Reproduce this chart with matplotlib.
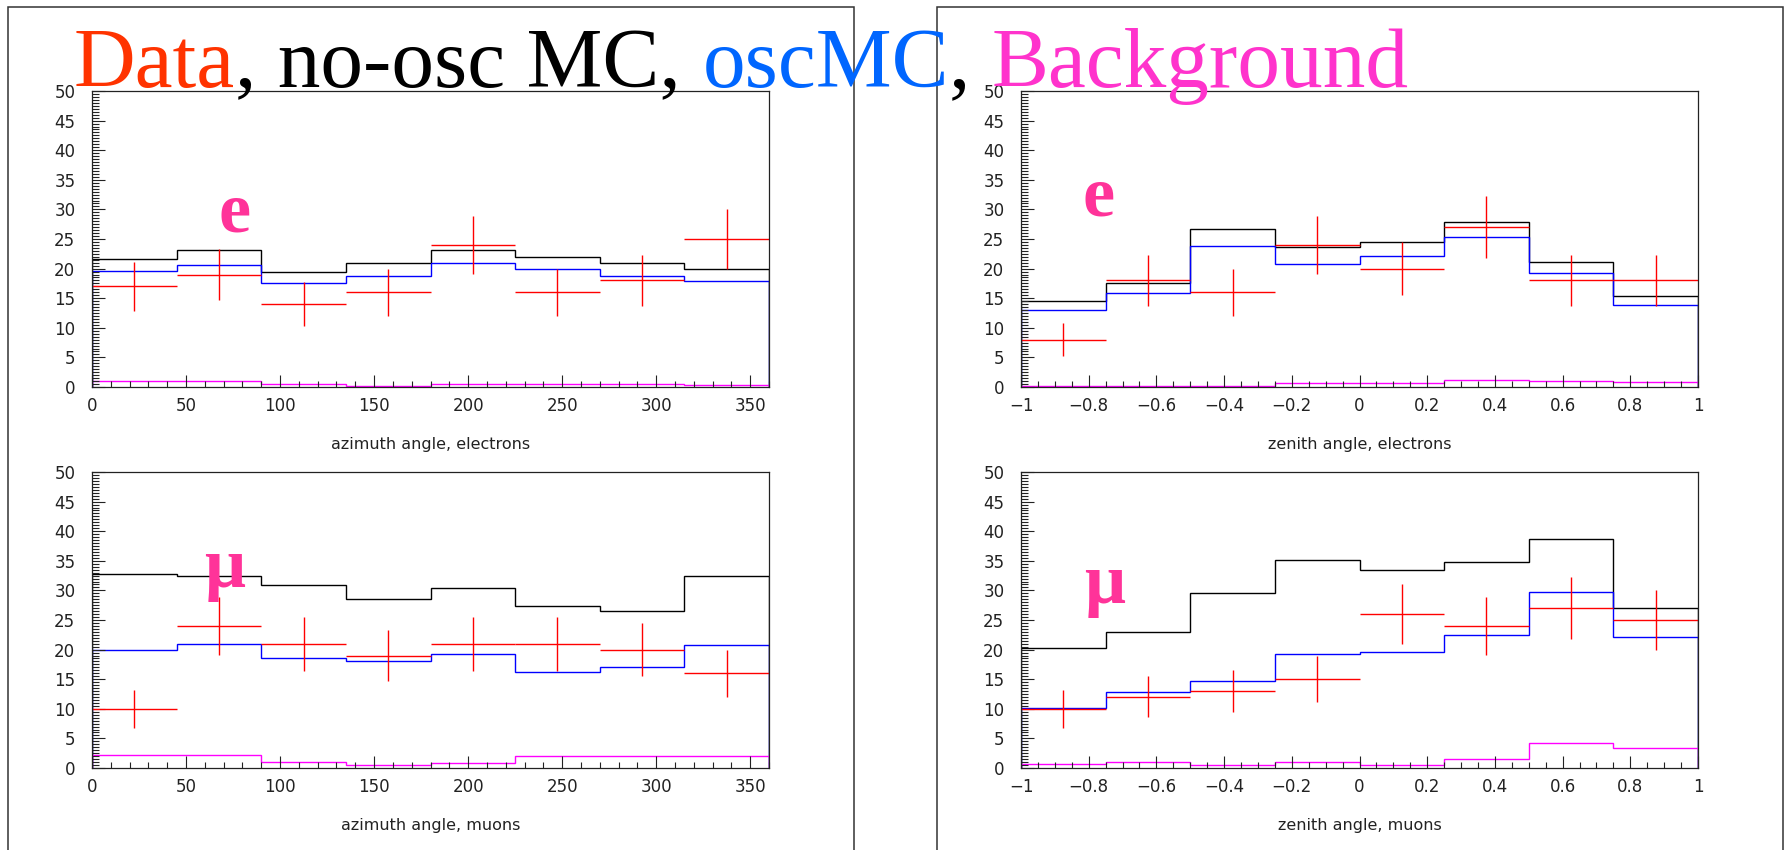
import numpy as np
import matplotlib
matplotlib.use("Agg")
import matplotlib.pyplot as plt
from matplotlib.patches import Rectangle
from matplotlib.text import Annotation
from matplotlib.ticker import MultipleLocator, FuncFormatter

W, H = 1785, 850

azimuth_edges = np.linspace(0, 360, 9)
zenith_edges = np.linspace(-1, 1, 9)

# azimuth, electrons
az_e_data = [17, 19, 14, 16, 24, 16, 18, 25]
az_e_noosc = [21.6, 23.1, 19.4, 20.9, 23.1, 22.0, 21.0, 20.0]
az_e_osc = [19.6, 20.6, 17.6, 18.7, 21.0, 19.9, 18.8, 17.9]
az_e_bkg = [1.0, 0.95, 0.5, 0.1, 0.55, 0.45, 0.55, 0.4]

# zenith, electrons
ze_e_data = [8, 18, 16, 24, 20, 27, 18, 18]
ze_e_noosc = [14.5, 17.5, 26.7, 23.7, 24.5, 27.9, 21.1, 15.3]
ze_e_osc = [13.0, 15.8, 23.9, 20.8, 22.2, 25.4, 19.2, 13.9]
ze_e_bkg = [0.1, 0.1, 0.1, 0.7, 0.7, 1.1, 0.95, 0.85]

# azimuth, muons
az_m_data = [10, 24, 21, 19, 21, 21, 20, 16]
az_m_noosc = [32.75, 32.5, 30.9, 28.6, 30.4, 27.4, 26.5, 32.5]
az_m_osc = [19.9, 20.9, 18.6, 18.1, 19.2, 16.3, 17.1, 20.7]
az_m_bkg = [2.25, 2.25, 1.07, 0.56, 0.85, 2.1, 2.1, 2.0]

# zenith, muons
ze_m_data = [10, 12, 13, 15, 26, 24, 27, 25]
ze_m_noosc = [20.2, 23.0, 29.5, 35.2, 33.4, 34.8, 38.6, 27.0]
ze_m_osc = [10.1, 12.8, 14.7, 19.3, 19.6, 22.5, 29.7, 22.2]
ze_m_bkg = [0.7, 1.0, 0.56, 1.0, 0.56, 1.47, 4.3, 3.3]

title_parts = ["Data", ", no-osc MC, ", "oscMC", ", ", "Background"]
title_colors = ["#ff3300", "black", "#0066ff", "black", "#ff33cc"]


def fmt_tick(v, pos):
    v = round(v, 6)
    if v == 0:
        return "0"
    return ("%g" % v).replace("-", "\u2212")


def draw_panel(ax, edges, data, noosc, osc, bkg, xlabel, major, minor):
    data = np.asarray(data, dtype=float)
    ax.stairs(noosc, edges, baseline=0, color="black", lw=1.0)
    ax.stairs(osc, edges, baseline=0, color="blue", lw=1.0)
    ax.stairs(bkg, edges, baseline=0, color="magenta", lw=1.0)
    centers = 0.5 * (edges[:-1] + edges[1:])
    half = 0.5 * np.diff(edges)
    ax.errorbar(centers, data, xerr=half, yerr=np.sqrt(data), fmt="none",
                ecolor="red", elinewidth=1.0, capsize=0)
    ax.set_xlim(edges[0], edges[-1])
    ax.set_ylim(0, 50)
    ax.xaxis.set_major_locator(MultipleLocator(major))
    ax.xaxis.set_minor_locator(MultipleLocator(minor))
    ax.yaxis.set_major_locator(MultipleLocator(5))
    ax.yaxis.set_minor_locator(MultipleLocator(0.5))
    ax.xaxis.set_major_formatter(FuncFormatter(fmt_tick))
    ax.tick_params(which="both", direction="in", top=False, right=False,
                   width=0.8, colors="#222222", labelsize=12)
    ax.tick_params(axis="x", which="major", length=8.6, pad=7)
    ax.tick_params(axis="x", which="minor", length=4.3)
    ax.tick_params(axis="y", which="major", length=9.4, pad=12)
    ax.tick_params(axis="y", which="minor", length=5)
    for s in ax.spines.values():
        s.set_linewidth(0.9)
        s.set_color("#222222")
    ax.set_xlabel(xlabel, fontsize=11.5, color="#222222", labelpad=16)


fig = plt.figure(figsize=(W / 100, H / 100), dpi=100)

# outer frames around the left and right pairs
for x0, x1 in [(7.5, 854), (937, 1783)]:
    fig.add_artist(Rectangle((x0 / W, -0.1), (x1 - x0) / W, 1.1 - 7 / H,
                             transform=fig.transFigure, fill=False,
                             edgecolor="#333333", lw=1.1))

aw = (769 - 92) / W
ah = (387 - 91) / H
ax_tl = fig.add_axes([92 / W, 1 - 387 / H, aw, ah])
ax_tr = fig.add_axes([1021 / W, 1 - 387 / H, aw, ah])
ax_bl = fig.add_axes([92 / W, 1 - 768 / H, aw, ah])
ax_br = fig.add_axes([1021 / W, 1 - 768 / H, aw, ah])

draw_panel(ax_tl, azimuth_edges, az_e_data, az_e_noosc, az_e_osc, az_e_bkg,
           "azimuth angle, electrons", 50, 10)
draw_panel(ax_tr, zenith_edges, ze_e_data, ze_e_noosc, ze_e_osc, ze_e_bkg,
           "zenith angle, electrons", 0.2, 0.05)
draw_panel(ax_bl, azimuth_edges, az_m_data, az_m_noosc, az_m_osc, az_m_bkg,
           "azimuth angle, muons", 50, 10)
draw_panel(ax_br, zenith_edges, ze_m_data, ze_m_noosc, ze_m_osc, ze_m_bkg,
           "zenith angle, muons", 0.2, 0.05)

# particle labels
pink = "#ff3399"
for x, y, s in [(235, 231, "e"), (1099, 216, "e"),
                (225, 587, "\u03bc"), (1105, 603, "\u03bc")]:
    fig.text(x / W, 1 - y / H, s, color=pink, fontsize=52, fontweight="bold",
             family="Liberation Serif", ha="center", va="baseline")

# coloured title, each piece starts where the previous one ends
t = fig.text(74 / W, 1 - 87 / H, title_parts[0], color=title_colors[0],
             fontsize=61.5, family="Liberation Serif", va="baseline")
for part, col in zip(title_parts[1:], title_colors[1:]):
    t = fig.add_artist(Annotation(
        part, xy=(1, 0), xycoords=t, xytext=(0, 0), textcoords="offset points",
        va="bottom", ha="left", color=col, fontsize=61.5,
        family="Liberation Serif"))

fig.savefig("out.png", dpi=100)
